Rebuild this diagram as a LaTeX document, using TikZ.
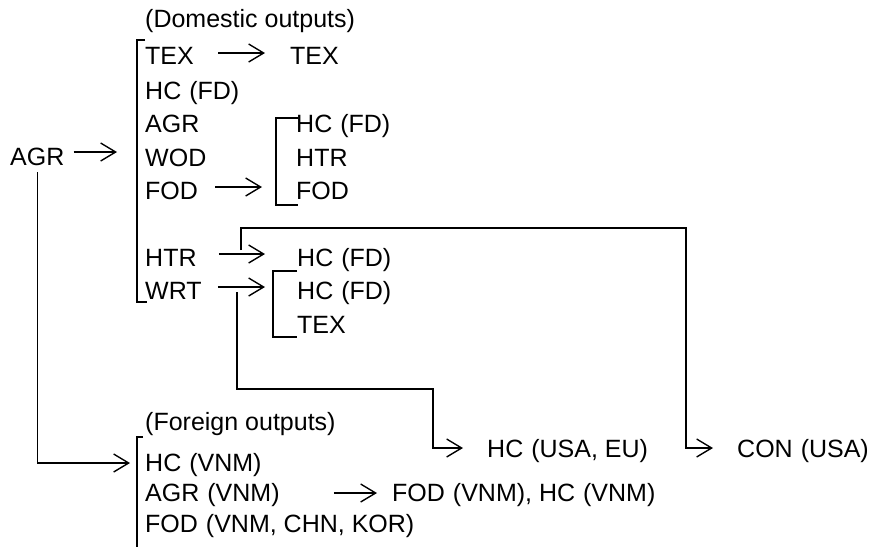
\documentclass[tikz,border=0pt]{standalone}
\usepackage{fontspec}
\setmainfont{Liberation Sans}
\usepackage{tikz}
\usetikzlibrary{arrows.meta,calc,positioning}
\newcommand{\cty}[1]{\hspace{.32em}(#1)}
\tikzset{
  lbl/.style={anchor=west,inner sep=0pt,text height=18pt,text depth=0pt,font=\fontsize{25}{29}\selectfont},
  arr/.style={-{Straight Barb[length=15pt,width=18pt]},line width=1.4pt},
  ln/.style={line width=1.4pt},
}

\begin{document}
\begin{tikzpicture}[x=1pt,y=-1pt]
\useasboundingbox (0,0) rectangle (878,547);
% source sector
\node[lbl] (agr) at (10,156) {AGR};
% domestic outputs
\node[lbl] (dom) at (145,18) {(Domestic outputs)};
\node[lbl] (tex) at (145,55) {TEX};
\node[lbl] (hc) at (145,90) {HC\cty{FD}};
\node[lbl] (agrd) at (145,123) {AGR};
\node[lbl] (wod) at (145,157) {WOD};
\node[lbl] (fod) at (145,190) {FOD};
\node[lbl] (htr) at (145,257) {HTR};
\node[lbl] (wrt) at (145,290) {WRT};
% second round
\node[lbl] (texb) at (290,55) {TEX};
\node[lbl] (hcb) at (296,123) {HC\cty{FD}};
\node[lbl] (htrb) at (296,157) {HTR};
\node[lbl] (fodb) at (296,190) {FOD};
\node[lbl] (hcc) at (297,257) {HC\cty{FD}};
\node[lbl] (hcd) at (297,290) {HC\cty{FD}};
\node[lbl] (texc) at (297,324) {TEX};
% foreign outputs
\node[lbl] (frn) at (145,421) {(Foreign outputs)};
\node[lbl] (hcv) at (145,462) {HC\cty{VNM}};
\node[lbl] (agrv) at (145,492) {AGR\cty{VNM}};
\node[lbl] (fodv) at (145,523) {FOD\cty{VNM, CHN, KOR}};
\node[lbl] (fodhc) at (392,492) {FOD\cty{VNM}, HC\cty{VNM}};
\node[lbl] (hcus) at (487,448) {HC\cty{USA, EU}};
\node[lbl] (con) at (737,448) {CON\cty{USA}};

% brackets
\draw[ln] (145,40) -| (137,302) -- (147,302);
\draw[ln] (298,118) -| (276,205) -- (298,205);
\draw[ln] (297,271) -| (273,337) -- (297,337);
\draw[ln] (143,437) -| (137,547);
\coordinate (dbar) at (137,152);
\coordinate (bbar) at (276,187);
\coordinate (cbar) at (273,287);
\coordinate (fbar) at (137,463);
\coordinate (htrj) at (241,250);
\coordinate (wrtj) at (237,292);

% arrows
\draw[arr,shorten <=9pt,shorten >=20pt] (agr.east |- dbar) -- (dbar);
\draw[arr,shorten <=24pt,shorten >=25pt] ([yshift=2pt]tex.east) -- ([yshift=2pt]texb.west);
\draw[arr,shorten <=17pt,shorten >=14pt] (fod.east |- bbar) -- (bbar);
\draw[arr,shorten <=22pt,shorten >=32pt] ([yshift=3pt]htr.east) -- ([yshift=3pt]hcc.west);
\draw[arr,shorten <=16pt,shorten >=8pt] (wrt.east |- cbar) -- (cbar);
\draw[arr,shorten >=7pt] ([yshift=-7pt]agr.south) |- (fbar);
\draw[arr,shorten <=54pt,shorten >=15pt] ([yshift=-1pt]agrv.east) -- ([yshift=-1pt]fodhc.west);
% to the final demand abroad
\draw[arr,shorten >=24pt] (htrj) |- (686,228) |- (con.west);
\draw[arr,shorten >=24pt] (wrtj) |- (433,389) |- (hcus.west);
\end{tikzpicture}
\end{document}
